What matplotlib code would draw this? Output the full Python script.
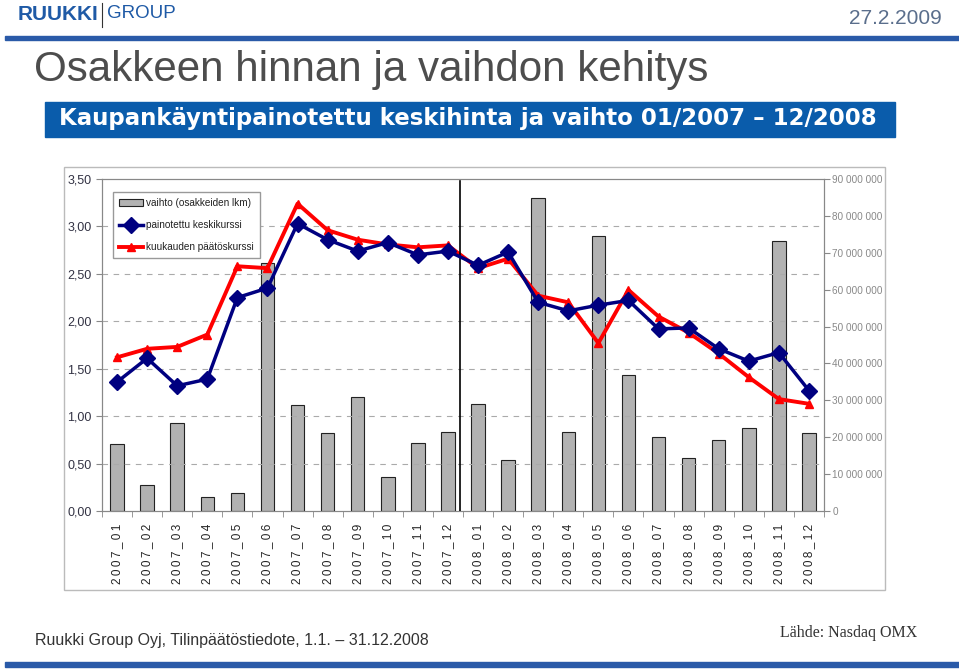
import matplotlib.pyplot as plt
import numpy as np
from matplotlib.patches import Rectangle

plt.rcParams['font.family'] = ['Liberation Sans', 'DejaVu Sans']

# monthly data 01/2007 - 12/2008
months = ['2007_01', '2007_02', '2007_03', '2007_04', '2007_05', '2007_06',
          '2007_07', '2007_08', '2007_09', '2007_10', '2007_11', '2007_12',
          '2008_01', '2008_02', '2008_03', '2008_04', '2008_05', '2008_06',
          '2008_07', '2008_08', '2008_09', '2008_10', '2008_11', '2008_12']
vaihto = [18.2, 7.0, 23.8, 3.8, 4.9, 67.2, 28.7, 21.1, 30.9, 9.2, 18.4, 21.4,
          29.0, 13.8, 84.8, 21.4, 74.5, 36.9, 20.1, 14.4, 19.2, 22.5, 73.2, 21.1]  # million shares
keskikurssi = [1.36, 1.61, 1.32, 1.39, 2.25, 2.35, 3.03, 2.86, 2.74, 2.83, 2.70, 2.74,
               2.59, 2.73, 2.20, 2.11, 2.17, 2.22, 1.92, 1.93, 1.71, 1.58, 1.67, 1.27]
paatoskurssi = [1.62, 1.71, 1.73, 1.86, 2.58, 2.56, 3.24, 2.96, 2.86, 2.81, 2.78, 2.80,
                2.56, 2.66, 2.27, 2.20, 1.77, 2.33, 2.05, 1.88, 1.66, 1.41, 1.18, 1.13]

W, H = 959, 670
fig = plt.figure(figsize=(W / 100, H / 100), dpi=100)

def fx(px): return px / W
def fy(py): return 1 - py / H

blue = '#1F5AA6'

# header
fig.text(fx(18), fy(14), 'RUUKKI', fontsize=15, fontweight='bold', color=blue, va='center')
fig.add_artist(plt.Line2D([fx(102), fx(102)], [fy(3), fy(27)], color='#333333', lw=0.8))
fig.text(fx(107), fy(14), 'GROUP', fontsize=13.5, color=blue, va='center')
fig.add_artist(Rectangle((fx(5), fy(40)), fx(954), 4 / H, color='#2A5AA8', transform=fig.transFigure))
fig.text(fx(942), fy(19), '27.2.2009', fontsize=15, color='#5A6E8C', ha='right', va='center')
fig.text(fx(34), fy(70), 'Osakkeen hinnan ja vaihdon kehitys', fontsize=30.3, color='#4D4D4D',
         va='center')
fig.add_artist(Rectangle((fx(45), fy(137)), fx(850), 35 / H, color='#0A5CAB', transform=fig.transFigure))
fig.text(fx(468), fy(119), 'Kaupankäyntipainotettu keskihinta ja vaihto 01/2007 – 12/2008',
         fontsize=16.5, color='white', fontweight='bold', ha='center', va='center',
         family='DejaVu Sans')

# chart frame
fig.add_artist(Rectangle((fx(64), fy(590)), fx(821), 423 / H, fill=False, ec='#BBBBBB', lw=1,
                         transform=fig.transFigure))

# footer
fig.text(fx(35), fy(640), 'Ruukki Group Oyj, Tilinpäätöstiedote, 1.1. – 31.12.2008', fontsize=11.5,
         color='#333333', va='center')
fig.text(fx(780), fy(633), 'Lähde: Nasdaq OMX', fontsize=11.5, color='#333333', va='center',
         family='Liberation Serif')
fig.add_artist(Rectangle((fx(5), fy(667)), fx(954), 5 / H, color='#2A5AA8', transform=fig.transFigure))

# axes
ax2 = fig.add_axes([fx(102), fy(511), fx(722), (511 - 179) / H])
ax = ax2.twinx()
x = np.arange(len(months))

ax2.bar(x, np.array(vaihto) * 1e6, width=0.45, color='#B2B2B2', edgecolor='#222222', lw=0.8,
        label='vaihto (osakkeiden lkm)', zorder=2)
ax2.set_ylim(0, 90e6)
ax2.yaxis.tick_right()
ax2.set_yticks(np.arange(0, 90e6 + 1, 10e6))
ax2.set_yticklabels(['0'] + [f'{int(v):,}'.replace(',', ' ') for v in np.arange(10e6, 90e6 + 1, 10e6)])

ax.yaxis.tick_left()
ax.set_ylim(0, 3.5)
ax.set_yticks(np.arange(0, 3.51, 0.5))
ax.set_yticklabels([f'{v:.2f}'.replace('.', ',') for v in np.arange(0, 3.51, 0.5)])
for v in np.arange(0.5, 3.5, 0.5):
    ax.axhline(v, color='#AAAAAA', lw=0.8, ls=(0, (5, 5)), zorder=1)
ax.plot(x, keskikurssi, color='#000080', lw=2.5, marker='D', ms=8.5, label='painotettu keskikurssi', zorder=4)
ax.plot(x, paatoskurssi, color='#FF0000', lw=2.8, marker='^', ms=6, label='kuukauden päätöskurssi', zorder=3)
ax.axvline(11.4, ymax=0.995, color='black', lw=1.2, zorder=3)
ax.set_xlim(-0.5, len(months) - 0.5)

ax2.set_xticks(x)
ax2.set_xticklabels(['\u2009'.join(m) for m in months], rotation=90, fontsize=8.5, color='#222222')
ax2.set_xticks(np.arange(-0.5, len(months)), minor=True)
ax2.tick_params(axis='x', which='major', length=0, pad=9)
ax2.tick_params(axis='x', which='minor', length=4, color='#888888')

for a in (ax, ax2):
    for s in a.spines.values():
        s.set_color('#888888')
        s.set_linewidth(0.8)
ax.tick_params(axis='y', labelsize=9, colors='#888888', labelcolor='#333344', length=4)
ax2.tick_params(axis='y', labelsize=7.2, colors='#888888', labelcolor='#888888', length=4, pad=2)

h1, l1 = ax2.get_legend_handles_labels()
h2, l2 = ax.get_legend_handles_labels()
leg = ax.legend(h1 + h2, l1 + l2, loc='upper left', bbox_to_anchor=(0.009, 0.975), fontsize=7.2,
                frameon=True, fancybox=False, edgecolor='#999999', handlelength=2.4,
                labelspacing=1.2, borderpad=0.6, handletextpad=0.25, framealpha=1)
leg.set_zorder(10)
for t in leg.get_texts():
    t.set_color('#222222')

fig.savefig('out.png', dpi=100)
